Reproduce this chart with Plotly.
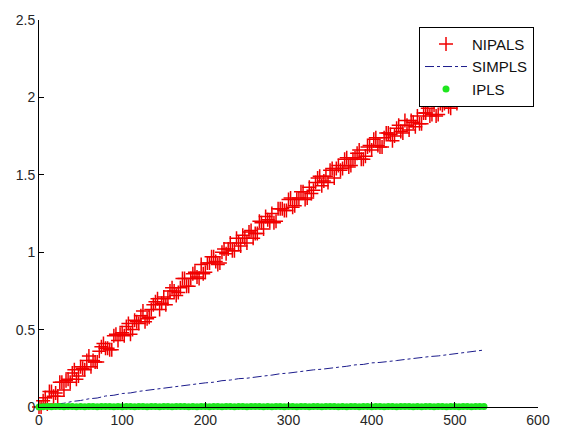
import plotly.graph_objects as go

# Iteration index shared by the three algorithms
nipals_x = list(range(0, 531, 5))
nipals_x_mid = [v + 2.5 for v in range(0, 530, 5)]
simpls_x = list(range(0, 531, 10)) + [535]
ipls_x = list(range(0, 536, 5))

# NIPALS deviation per iteration (whole steps)
nipals_y = [
    0.00, 0.04, 0.02, 0.10, 0.09, 0.16, 0.11, 0.18, 0.22, 0.18,
    0.26, 0.24, 0.33, 0.30, 0.29, 0.39, 0.38, 0.37, 0.46, 0.43,
    0.48, 0.52, 0.47, 0.56, 0.54, 0.62, 0.57, 0.63, 0.68, 0.63,
    0.71, 0.70, 0.77, 0.72, 0.77, 0.83, 0.78, 0.86, 0.84, 0.92,
    0.87, 0.93, 0.97, 0.92, 1.00, 0.99, 1.06, 1.01, 1.06, 1.11,
    1.06, 1.14, 1.12, 1.20, 1.15, 1.21, 1.25, 1.20, 1.28, 1.27,
    1.34, 1.29, 1.34, 1.39, 1.34, 1.42, 1.40, 1.48, 1.43, 1.49,
    1.53, 1.48, 1.56, 1.54, 1.61, 1.56, 1.61, 1.66, 1.60, 1.68,
    1.66, 1.74, 1.68, 1.74, 1.77, 1.72, 1.80, 1.78, 1.85, 1.79,
    1.84, 1.88, 1.83, 1.90, 1.88, 1.95, 1.89, 1.95, 1.98, 1.93,
    2.00, 1.99, 2.05, 2.00, 2.04, 2.09, 2.03,
]

# NIPALS deviation per iteration (half steps)
nipals_y_mid = [
    0.00, 0.06, 0.10, 0.07, 0.07, 0.16, 0.17, 0.16, 0.24, 0.20,
    0.25, 0.30, 0.26, 0.29, 0.36, 0.41, 0.38, 0.37, 0.47, 0.47,
    0.46, 0.54, 0.50, 0.55, 0.59, 0.55, 0.58, 0.66, 0.70, 0.67,
    0.66, 0.75, 0.75, 0.74, 0.83, 0.78, 0.83, 0.87, 0.83, 0.86,
    0.93, 0.97, 0.94, 0.93, 1.02, 1.02, 1.01, 1.09, 1.04, 1.09,
    1.13, 1.09, 1.12, 1.19, 1.23, 1.20, 1.19, 1.28, 1.28, 1.27,
    1.35, 1.30, 1.35, 1.39, 1.35, 1.38, 1.45, 1.49, 1.46, 1.45,
    1.54, 1.54, 1.53, 1.60, 1.55, 1.60, 1.64, 1.60, 1.62, 1.69,
    1.73, 1.69, 1.68, 1.77, 1.76, 1.75, 1.82, 1.77, 1.82, 1.85,
    1.81, 1.83, 1.90, 1.93, 1.89, 1.88, 1.96, 1.96, 1.94, 2.01,
    1.96, 2.00, 2.04, 1.99, 2.02, 2.08,
]

# SIMPLS deviation per iteration
simpls_y = [
    0.000, 0.006, 0.019, 0.024, 0.036, 0.042, 0.053, 0.058, 0.071, 0.076,
    0.087, 0.091, 0.101, 0.108, 0.112, 0.123, 0.127, 0.135, 0.142, 0.147,
    0.156, 0.160, 0.170, 0.174, 0.183, 0.186, 0.195, 0.200, 0.206, 0.215,
    0.219, 0.227, 0.231, 0.240, 0.244, 0.252, 0.257, 0.263, 0.272, 0.275,
    0.285, 0.288, 0.296, 0.300, 0.307, 0.314, 0.318, 0.326, 0.330, 0.337,
    0.343, 0.349, 0.355, 0.362, 0.368,
]

# IPLS deviation per iteration (stays at the numerical floor)
ipls_y = [
    0.000, 0.002, 0.003, 0.002, 0.004, 0.003, 0.002, 0.003, 0.004, 0.002,
    0.003, 0.002, 0.004, 0.003, 0.002, 0.003, 0.004, 0.003, 0.002, 0.003,
    0.002, 0.004, 0.003, 0.002, 0.003, 0.004, 0.002, 0.003, 0.003, 0.002,
    0.004, 0.003, 0.002, 0.003, 0.004, 0.003, 0.002, 0.003, 0.002, 0.004,
    0.003, 0.002, 0.003, 0.004, 0.002, 0.003, 0.003, 0.002, 0.004, 0.003,
    0.002, 0.003, 0.004, 0.003, 0.002, 0.003, 0.002, 0.004, 0.003, 0.002,
    0.003, 0.004, 0.002, 0.003, 0.003, 0.002, 0.004, 0.003, 0.002, 0.003,
    0.004, 0.003, 0.002, 0.003, 0.002, 0.004, 0.003, 0.002, 0.003, 0.004,
    0.002, 0.003, 0.003, 0.002, 0.004, 0.003, 0.002, 0.003, 0.004, 0.003,
    0.002, 0.003, 0.002, 0.004, 0.003, 0.002, 0.003, 0.004, 0.002, 0.003,
    0.003, 0.002, 0.004, 0.003, 0.002, 0.003, 0.004, 0.003,
]

x_ticks = [0, 100, 200, 300, 400, 500, 600]
y_ticks = [0, 0.5, 1, 1.5, 2, 2.5]
y_tick_text = ["0", "0.5", "1", "1.5", "2", "2.5"]

fig = go.Figure()

fig.add_trace(go.Scatter(
    x=nipals_x + nipals_x_mid, y=nipals_y + nipals_y_mid,
    name="NIPALS", mode="markers",
    marker=dict(symbol="cross-thin", size=10, color="#ff0000",
                line=dict(color="#f00000", width=1.5)),
    cliponaxis=False,
))
fig.add_trace(go.Scatter(
    x=simpls_x, y=simpls_y, name="SIMPLS", mode="lines",
    line=dict(color="#1c1c8c", width=1, dash="dashdot"),
))
fig.add_trace(go.Scatter(
    x=ipls_x, y=ipls_y, name="IPLS", mode="markers",
    marker=dict(symbol="circle", size=7, color="#1ee61e"),
    cliponaxis=False,
))

axis_common = dict(
    showline=True, linecolor="#000000", linewidth=1,
    ticks="inside", ticklen=5, tickcolor="#000000", tickwidth=1,
    showgrid=False, zeroline=False, mirror=False,
    tickfont=dict(family="Liberation Sans, Arial, sans-serif", size=14, color="#262626"),
)

fig.update_xaxes(range=[0, 600], tickvals=x_ticks, **axis_common)
fig.update_yaxes(range=[0, 2.5], tickvals=y_ticks, ticktext=y_tick_text, **axis_common)

fig.update_layout(
    width=562, height=440,
    margin=dict(l=39, r=12, t=20, b=20),
    paper_bgcolor="#ffffff", plot_bgcolor="#ffffff",
    showlegend=True,
    legend=dict(
        x=0.992, y=0.9825, xanchor="right", yanchor="top",
        bgcolor="#ffffff", bordercolor="#000000", borderwidth=1,
        font=dict(family="Liberation Sans, Arial, sans-serif", size=15, color="#111111"),
        itemwidth=42,
    ),
)

fig.write_html("out.html")
